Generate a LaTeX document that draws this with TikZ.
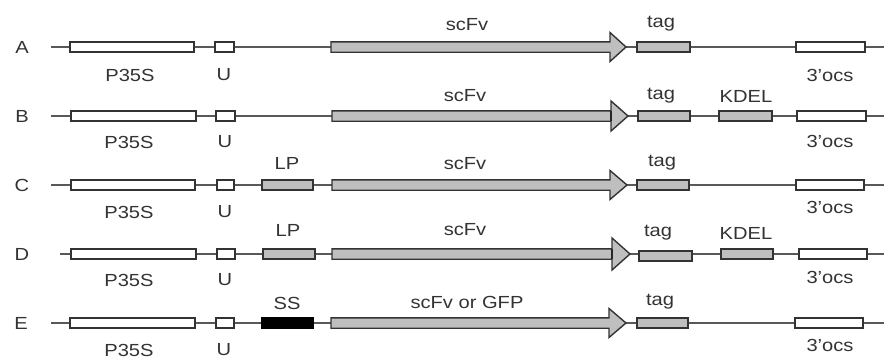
\documentclass[tikz,border=0pt]{standalone}
\usepackage{fontspec}
\setmainfont{Liberation Sans}
\begin{document}
\begin{tikzpicture}[x=1pt,y=-1pt,
  lbl/.style={inner sep=0pt,text=black!80,font=\fontsize{17.5}{19}\selectfont},
  bb/.style={draw=black!65,line width=1.3pt},
  white box/.style={draw=black!80,fill=white,line width=1.6pt},
  grey box/.style={draw=black!80,fill=black!25,line width=1.6pt},
  black box/.style={draw=black,fill=black,line width=1.6pt},
  arr/.style={draw=black!80,fill=black!25,line width=1.4pt,line join=miter}]
\useasboundingbox[fill=white] (0,0) rectangle (884,360);
\newcommand{\hs}[1]{\scalebox{1.15}[1]{#1}}
% generic element: name, style, x1, x2, y
\newcommand{\elem}[5]{\path[#2] (#3,#5-5.2) rectangle (#4,#5+5.2); \coordinate (#1) at ({(#3+#4)/2},#5);}
% arrow: name, x1, xbase, xtip, y, halfhead, separator
\newcommand{\scarrow}[6]{%
  \path[arr] (#2,#5-5.2) -- (#3,#5-5.2) -- (#3,#5-#6) -- (#4,#5) -- (#3,#5+#6) -- (#3,#5+5.2) -- (#2,#5+5.2) -- cycle;
  \coordinate (#1) at ({(#2+#3)/2},#5);}
% ---------- Row A
\coordinate (As) at (51,47); \coordinate (Ae) at (884,47);
\draw[bb] (As) -- (Ae);
\elem{Ap}{white box}{70}{194}{47}
\elem{Au}{white box}{215}{234}{47}
\scarrow{Asc}{331}{610}{626}{47}{14.5}
\elem{At}{grey box}{637}{690}{47}
\elem{Ao}{white box}{796}{865}{47}
\node[lbl] (AL) at (22,47) {\hs{A}};
\node[lbl] (Apl) at (130,75) {\hs{P35S}};
\node[lbl] (Aul) at (224,75) {\hs{U}};
\node[lbl] (Ascl) at (467,25) {\hs{scFv}};
\node[lbl] (Atl) at (661,24) {\hs{tag}};
\node[lbl] (Aol) at (830,75) {\hs{3’ocs}};
% ---------- Row B
\coordinate (Bs) at (51,116); \coordinate (Be) at (884,116);
\draw[bb] (Bs) -- (Be);
\elem{Bp}{white box}{71}{196}{116}
\elem{Bu}{white box}{216}{235}{116}
\scarrow{Bsc}{332}{611}{628}{116}{15}
\draw[black!85,line width=1.8pt] (611,110.8) -- (611,121.2);
\elem{Bt}{grey box}{638}{690}{116}
\elem{Bk}{grey box}{719}{772}{116}
\elem{Bo}{white box}{797}{866}{116}
\node[lbl] (BL) at (22,116) {\hs{B}};
\node[lbl] (Bpl) at (129,142) {\hs{P35S}};
\node[lbl] (Bul) at (225,142) {\hs{U}};
\node[lbl] (Bscl) at (465,96) {\hs{scFv}};
\node[lbl] (Btl) at (661,96) {\hs{tag}};
\node[lbl] (Bkl) at (746,96) {\hs{KDEL}};
\node[lbl] (Bol) at (830,141) {\hs{3’ocs}};
% ---------- Row C
\coordinate (Cs) at (51,185); \coordinate (Ce) at (884,185);
\draw[bb] (Cs) -- (Ce);
\elem{Cp}{white box}{71}{195}{185}
\elem{Cu}{white box}{217}{234}{185}
\elem{Clp}{grey box}{262}{313}{185}
\scarrow{Csc}{332}{610}{627}{185}{14.5}
\elem{Ct}{grey box}{637}{689}{185}
\elem{Co}{white box}{796}{864}{185}
\node[lbl] (CL) at (22,185) {\hs{C}};
\node[lbl] (Cpl) at (129,212) {\hs{P35S}};
\node[lbl] (Cul) at (225,212) {\hs{U}};
\node[lbl] (Clpl) at (287,163) {\hs{LP}};
\node[lbl] (Cscl) at (465,164) {\hs{scFv}};
\node[lbl] (Ctl) at (662,163) {\hs{tag}};
\node[lbl] (Col) at (830,207) {\hs{3’ocs}};
% ---------- Row D
\coordinate (Ds) at (60,254); \coordinate (De) at (884,254);
\draw[bb] (Ds) -- (De);
\elem{Dp}{white box}{71}{196}{254}
\elem{Du}{white box}{217}{235}{254}
\elem{Dlp}{grey box}{263}{315}{254}
\scarrow{Dsc}{332}{612}{630}{254}{16}
\draw[black!85,line width=1.8pt] (612,248.8) -- (612,259.2);
\elem{Dt}{grey box}{639}{692}{256}
\elem{Dk}{grey box}{721}{773}{254}
\elem{Do}{white box}{799}{867}{254}
\node[lbl] (DL) at (22,254) {\hs{D}};
\node[lbl] (Dpl) at (129,280) {\hs{P35S}};
\node[lbl] (Dul) at (225,280) {\hs{U}};
\node[lbl] (Dlpl) at (288,230) {\hs{LP}};
\node[lbl] (Dscl) at (465,230) {\hs{scFv}};
\node[lbl] (Dtl) at (658,233) {\hs{tag}};
\node[lbl] (Dkl) at (746,233) {\hs{KDEL}};
\node[lbl] (Dol) at (830,277) {\hs{3’ocs}};
% ---------- Row E
\coordinate (Es) at (51,323); \coordinate (Ee) at (884,323);
\draw[bb] (Es) -- (Ee);
\elem{Ep}{white box}{70}{195}{323}
\elem{Eu}{white box}{216}{234}{323}
\elem{Ess}{black box}{262}{313}{323}
\scarrow{Esc}{331}{609}{626}{323}{14.5}
\elem{Et}{grey box}{637}{688}{323}
\elem{Eo}{white box}{795}{863}{323}
\node[lbl] (EL) at (21,323) {\hs{E}};
\node[lbl] (Epl) at (129,350) {\hs{P35S}};
\node[lbl] (Eul) at (224,350) {\hs{U}};
\node[lbl] (Essl) at (287,303) {\hs{SS}};
\node[lbl] (Escl) at (467,302) {\hs{scFv or GFP}};
\node[lbl] (Etl) at (660,302) {\hs{tag}};
\node[lbl] (Eol) at (830,345) {\hs{3’ocs}};
\end{tikzpicture}
\end{document}
